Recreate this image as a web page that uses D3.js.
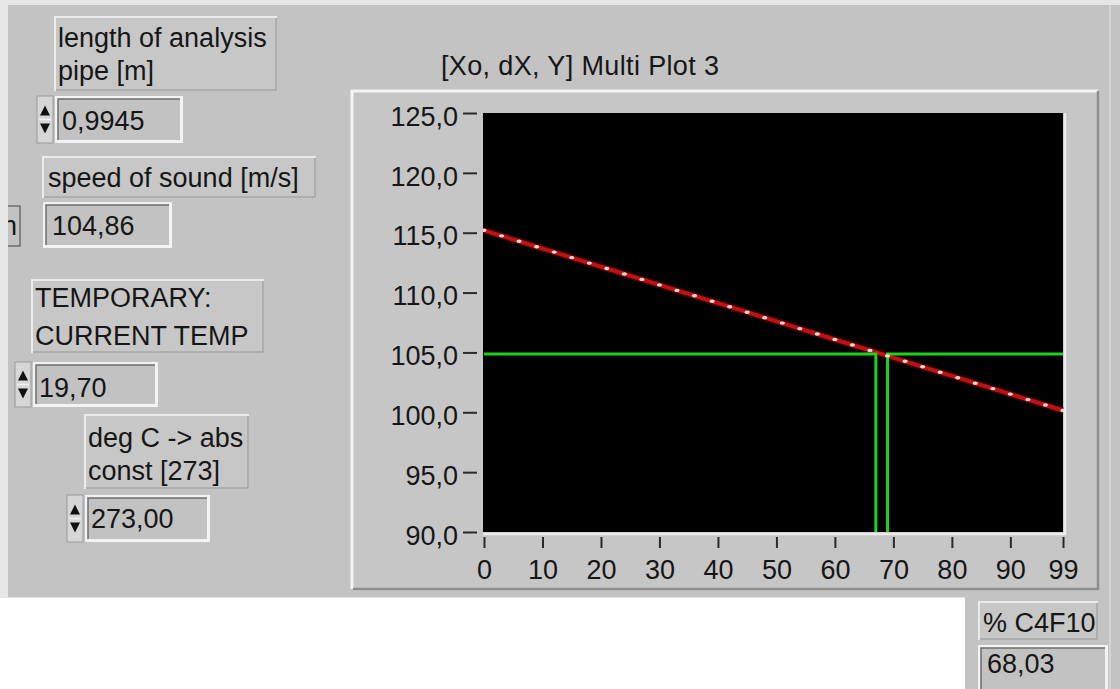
<!DOCTYPE html>
<html><head><meta charset="utf-8">
<script src="https://cdn.jsdelivr.net/npm/d3@7"></script>
<style>
html,body{margin:0;padding:0;background:#fff;}
svg{display:block;}
text{font-family:"Liberation Sans",Arial,sans-serif;fill:#161616;}
</style></head>
<body>
<svg id="c" width="1120" height="689"></svg>
<script>
// ---- data ----
const chartTitle = "[Xo, dX, Y] Multi Plot 3";
const xTicks = [0,10,20,30,40,50,60,70,80,90,99];
const yTicks = [90,95,100,105,110,115,120,125];
const xValues = [0,3,6,9,12,15,18,21,24,27,30,33,36,39,42,45,48,51,54,57,60,63,66,69,72,75,78,81,84,87,90,93,96,99];
const soundSpeed = [115.20,114.74,114.29,113.83,113.38,112.92,112.46,112.01,111.55,111.10,110.64,110.18,109.73,109.27,108.82,108.36,107.90,107.45,106.99,106.54,106.08,105.62,105.17,104.71,104.26,103.80,103.34,102.89,102.43,101.98,101.52,101.06,100.61,100.15];
const cursorLeftX = [0,67,67];
const cursorLeftY = [104.86,104.86,90];
const cursorRightX = [99,69,69];
const cursorRightY = [104.86,104.86,90];
const controlLabels = [
  {lines:["length of analysis","pipe [m]"]},
  {lines:["speed of sound [m/s]"]},
  {lines:["TEMPORARY:","CURRENT TEMP"]},
  {lines:["deg C -> abs","const [273]"]},
  {lines:["% C4F10"]}
];
const controlValues = ["0,9945","104,86","19,70","273,00","68,03"];

// ---- layout (positions only) ----
const labelBoxes = [
  {x:55,y:17,w:221,h:73,tx:58,base:[47,80]},
  {x:43,y:157,w:272,h:40,tx:48,base:[187]},
  {x:32,y:280,w:231,h:72,tx:35,base:[307,345]},
  {x:85,y:415,w:163,h:73,tx:88,base:[447,480]},
  {x:979,y:602,w:118,h:37,tx:983,base:[632]}
];
const valueBoxes = [
  {x:55,y:96,w:128,h:47,tx:62,base:130,spin:true},
  {x:43,y:202,w:129,h:46,tx:52,base:235,spin:false},
  {x:33,y:362,w:125,h:45,tx:39,base:397,spin:true},
  {x:85,y:495,w:125,h:47,tx:91,base:528,spin:true},
  {x:978,y:645,w:130,h:50,tx:987,base:673,spin:false}
];

const svg = d3.select("#c");
const FS = 27;

// backgrounds
svg.append("rect").attr("x",0).attr("y",0).attr("width",1120).attr("height",689).attr("fill","#ffffff");
svg.append("rect").attr("x",0).attr("y",0).attr("width",1120).attr("height",598).attr("fill","#e6e6e6");
svg.append("rect").attr("x",8).attr("y",5).attr("width",1112).attr("height",592).attr("fill","#c3c3c3");
svg.append("rect").attr("x",965).attr("y",597).attr("width",155).attr("height",92).attr("fill","#c3c3c3");
svg.append("line").attr("x1",1110).attr("x2",1110).attr("y1",5).attr("y2",689).attr("stroke","#d4d4d4").attr("stroke-width",2);

// plot frame
svg.append("rect").attr("x",352).attr("y",91).attr("width",746).attr("height",498).attr("fill","#c6c6c6");
svg.append("path").attr("d","M352,589 L352,91 L1098,91").attr("fill","none").attr("stroke","#f4f4f4").attr("stroke-width",3);
svg.append("path").attr("d","M353,589 L1098,589 L1098,91").attr("fill","none").attr("stroke","#8e8e8e").attr("stroke-width",2.5);

// title
svg.append("text").attr("x",441).attr("y",75).attr("font-size",FS).attr("textLength",278).attr("lengthAdjust","spacing").text(chartTitle);

// scales
const x = d3.scaleLinear().domain([0,99]).range([484,1063]);
const y = d3.scaleLinear().domain([90,125]).range([532,113]);

// plot area
svg.append("rect").attr("x",483).attr("y",113).attr("width",580).attr("height",419).attr("fill","#000");
svg.append("path").attr("d","M483,534 L1065,534 L1065,113").attr("fill","none").attr("stroke","#ececec").attr("stroke-width",2.5);

const clip = svg.append("clipPath").attr("id","pc");
clip.append("rect").attr("x",483).attr("y",113).attr("width",581).attr("height",421);
const plot = svg.append("g").attr("clip-path","url(#pc)");

const line = d3.line().x(d=>x(d[0])).y(d=>y(d[1]));
const redPts = xValues.map((v,i)=>[v,soundSpeed[i]]);
plot.append("path").datum(redPts).attr("d",line).attr("fill","none").attr("stroke","#5a0606").attr("stroke-width",7).attr("stroke-opacity",0.6);
plot.append("path").datum(redPts).attr("d",line).attr("fill","none").attr("stroke","#c01212").attr("stroke-width",4);

const gl = cursorLeftX.map((v,i)=>[v,cursorLeftY[i]]);
const gr = cursorRightX.map((v,i)=>[v,cursorRightY[i]]);
plot.append("path").datum(gl).attr("d",line).attr("fill","none").attr("stroke","#1ed21e").attr("stroke-width",3);
plot.append("path").datum(gr).attr("d",line).attr("fill","none").attr("stroke","#1ed21e").attr("stroke-width",3);

plot.selectAll("ellipse.pt").data(redPts).enter().append("ellipse")
  .attr("cx",d=>x(d[0])).attr("cy",d=>y(d[1])).attr("rx",2.6).attr("ry",1.7)
  .attr("fill","#ffd8d8");

// axes
const fmt = d=>d.toFixed(1).replace(".",",");
const ya = svg.append("g").attr("transform","translate(477,0)")
  .call(d3.axisLeft(y).tickValues(yTicks).tickSize(14).tickPadding(5).tickFormat(fmt));
ya.select(".domain").remove();
ya.selectAll("line").attr("stroke","#2a2a2a").attr("stroke-width",2);
ya.selectAll("text").attr("font-size",FS).attr("font-family","Liberation Sans, Arial, sans-serif").attr("fill","#161616").attr("dy","0.45em");

const xa = svg.append("g").attr("transform","translate(0,537)")
  .call(d3.axisBottom(x).tickValues(xTicks).tickSize(11).tickPadding(12).tickFormat(d3.format("d")));
xa.select(".domain").remove();
xa.selectAll("line").attr("stroke","#2a2a2a").attr("stroke-width",2);
xa.selectAll("text").attr("font-size",FS).attr("font-family","Liberation Sans, Arial, sans-serif").attr("fill","#161616");

// control labels
labelBoxes.forEach((b,i)=>{
  svg.append("rect").attr("x",b.x).attr("y",b.y).attr("width",b.w).attr("height",b.h)
    .attr("fill","#c7c7c7").attr("stroke","#ebebeb").attr("stroke-width",2);
  svg.append("path").attr("d",`M${b.x+1},${b.y+b.h} L${b.x+b.w},${b.y+b.h} L${b.x+b.w},${b.y+1}`)
    .attr("fill","none").attr("stroke","#9a9a9a").attr("stroke-width",1.5);
  controlLabels[i].lines.forEach((t,j)=>{
    svg.append("text").attr("x",b.tx).attr("y",b.base[j]).attr("font-size",FS).text(t);
  });
});

// value boxes
valueBoxes.forEach((b,i)=>{
  svg.append("rect").attr("x",b.x).attr("y",b.y).attr("width",b.w).attr("height",b.h).attr("fill","#f3f3f3");
  svg.append("rect").attr("x",b.x+3).attr("y",b.y+3).attr("width",b.w-6).attr("height",b.h-6).attr("fill","#c2c2c2");
  svg.append("path").attr("d",`M${b.x+3},${b.y+b.h-3} L${b.x+3},${b.y+3} L${b.x+b.w-3},${b.y+3}`)
    .attr("fill","none").attr("stroke","#6e6e6e").attr("stroke-width",1.5);
  svg.append("text").attr("x",b.tx).attr("y",b.base).attr("font-size",FS).text(controlValues[i]);
  if(b.spin){
    const sx=b.x-18, sw=16;
    svg.append("rect").attr("x",sx).attr("y",b.y).attr("width",sw).attr("height",b.h).attr("fill","#d6d6d6").attr("stroke","#9a9a9a").attr("stroke-width",1);
    const cx=sx+sw/2, my=b.y+b.h/2;
    svg.append("path").attr("d",`M${cx-5},${my-4} L${cx+5},${my-4} L${cx},${my-14} Z`).attr("fill","#111");
    svg.append("path").attr("d",`M${cx-5},${my+4} L${cx+5},${my+4} L${cx},${my+14} Z`).attr("fill","#111");
    svg.append("line").attr("x1",sx+2).attr("x2",sx+sw-2).attr("y1",my).attr("y2",my).attr("stroke","#f0f0f0").attr("stroke-width",1.5);
  }
});

// clipped control at the left edge
const edge = svg.append("g");
const ec = svg.append("clipPath").attr("id","ec");
ec.append("rect").attr("x",8).attr("y",200).attr("width",14).attr("height",50);
edge.attr("clip-path","url(#ec)");
edge.append("rect").attr("x",-40).attr("y",206).attr("width",60).attr("height",40).attr("fill","#c2c2c2").attr("stroke","#6e6e6e").attr("stroke-width",1.5);
edge.append("text").attr("x",17).attr("y",235).attr("font-size",FS).attr("text-anchor","end").text("n");
</script>
</body></html>
